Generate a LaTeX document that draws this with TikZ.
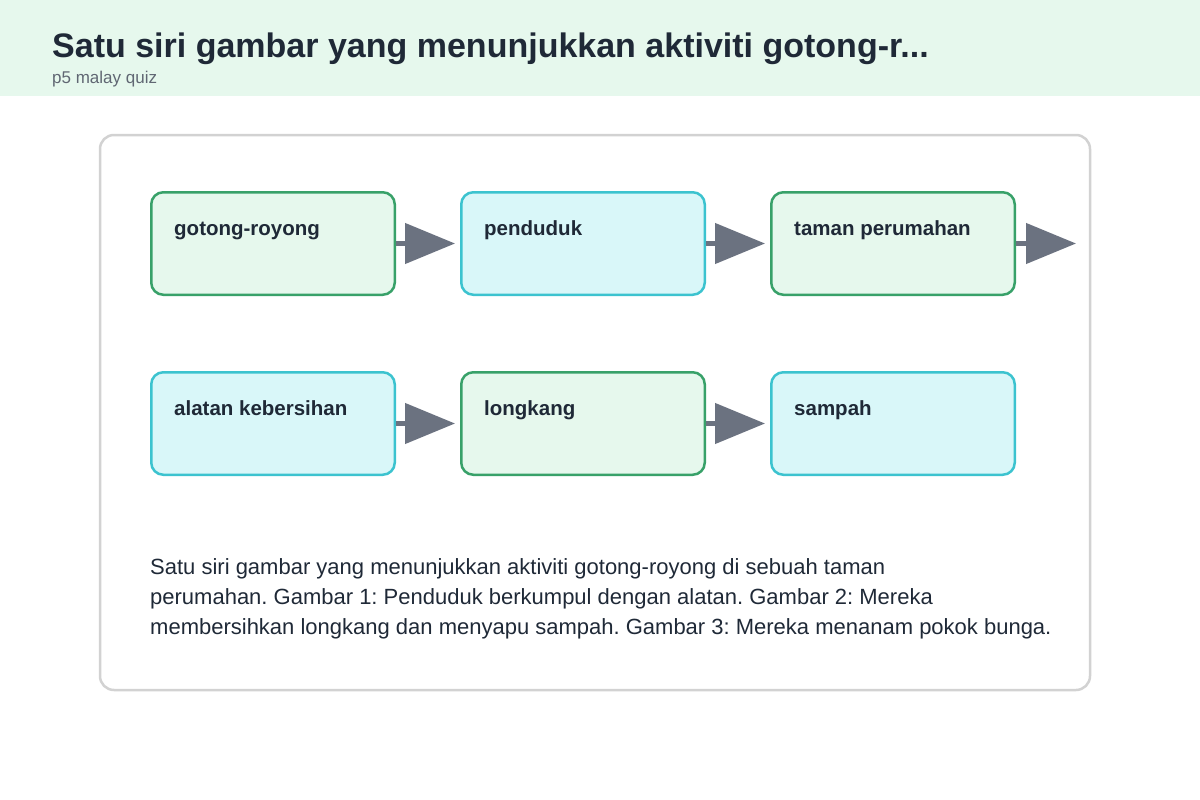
\documentclass[tikz,border=0pt]{standalone}
\usepackage{fontspec}
\setmainfont{Liberation Sans}
\usetikzlibrary{positioning,arrows.meta,calc}
\definecolor{headbg}{HTML}{E6F8ED}
\definecolor{stepgreen}{HTML}{38A169}
\definecolor{fillgreen}{HTML}{E6F8ED}
\definecolor{stepcyan}{HTML}{3CC3CF}
\definecolor{fillcyan}{HTML}{D9F7F9}
\definecolor{arrowgray}{HTML}{6B7280}
\definecolor{inkdark}{HTML}{1F2937}

\tikzset{
    stepbox/.style={draw, line width=2.5pt, rounded corners=12pt, minimum width=243.5pt, minimum height=102.5pt, inner sep=0pt},
    greenstep/.style={stepbox, draw=stepgreen, fill=fillgreen},
    cyanstep/.style={stepbox, draw=stepcyan, fill=fillcyan},
    steptext/.style={anchor=base west, font=\fontsize{20.5}{24}\selectfont\bfseries, text=inkdark, inner sep=0pt},
    flow/.style={draw=arrowgray, line width=4.5pt, -{Triangle[length=50pt,width=40pt]}, shorten >=5pt}
}

\begin{document}
\frenchspacing
\begin{tikzpicture}[x=1pt, y=-1pt]
    \useasboundingbox (0,0) rectangle (1200,800);
    % header
    \fill[headbg] (0,0) rectangle (1200,96);
    \node[anchor=base west, inner sep=0pt, font=\fontsize{34}{40}\selectfont\bfseries, text=inkdark] (title) at (52,58) {Satu siri gambar yang menunjukkan aktiviti gotong-r...};
    \node[anchor=base west, inner sep=0pt, font=\fontsize{17}{20}\selectfont, text=arrowgray!90!black] (sub) at (52,84) {p5 malay quiz};

    % frame
    \draw[line width=2.5pt, draw=gray!35, rounded corners=14pt] (100,135) rectangle (1090,690);

    % row 1
    \node[greenstep, anchor=north west] (gotong) at (150,191) {};
    \node[cyanstep, right=64pt of gotong] (penduduk) {};
    \node[greenstep, right=64pt of penduduk] (taman) {};
    % row 2
    \node[cyanstep, below=75pt of gotong] (alatan) {};
    \node[greenstep, right=64pt of alatan] (longkang) {};
    \node[cyanstep, right=64pt of longkang] (sampah) {};
    \coordinate (tail) at ($(taman.east)+(60,0)$);

    % labels
    \foreach \n/\t in {gotong/gotong-royong, penduduk/penduduk, taman/taman perumahan,
                       alatan/alatan kebersihan, longkang/longkang, sampah/sampah}
        \node[steptext] at ($(\n.north west)+(24,44)$) {\t};

    % arrows
    \draw[flow] (gotong) -- (penduduk);
    \draw[flow] (penduduk) -- (taman);
    \draw[flow, shorten >=0pt] (taman) -- (tail);
    \draw[flow] (alatan) -- (longkang);
    \draw[flow] (longkang) -- (sampah);

    % description
    \node[anchor=north west, inner sep=0pt, align=left, text=inkdark, font=\fontsize{22}{30}\selectfont] (desc) at (150,558) {Satu siri gambar yang menunjukkan aktiviti gotong-royong di sebuah taman\\perumahan. Gambar 1: Penduduk berkumpul dengan alatan. Gambar 2: Mereka\\membersihkan longkang dan menyapu sampah. Gambar 3: Mereka menanam pokok bunga.};
\end{tikzpicture}
\end{document}
